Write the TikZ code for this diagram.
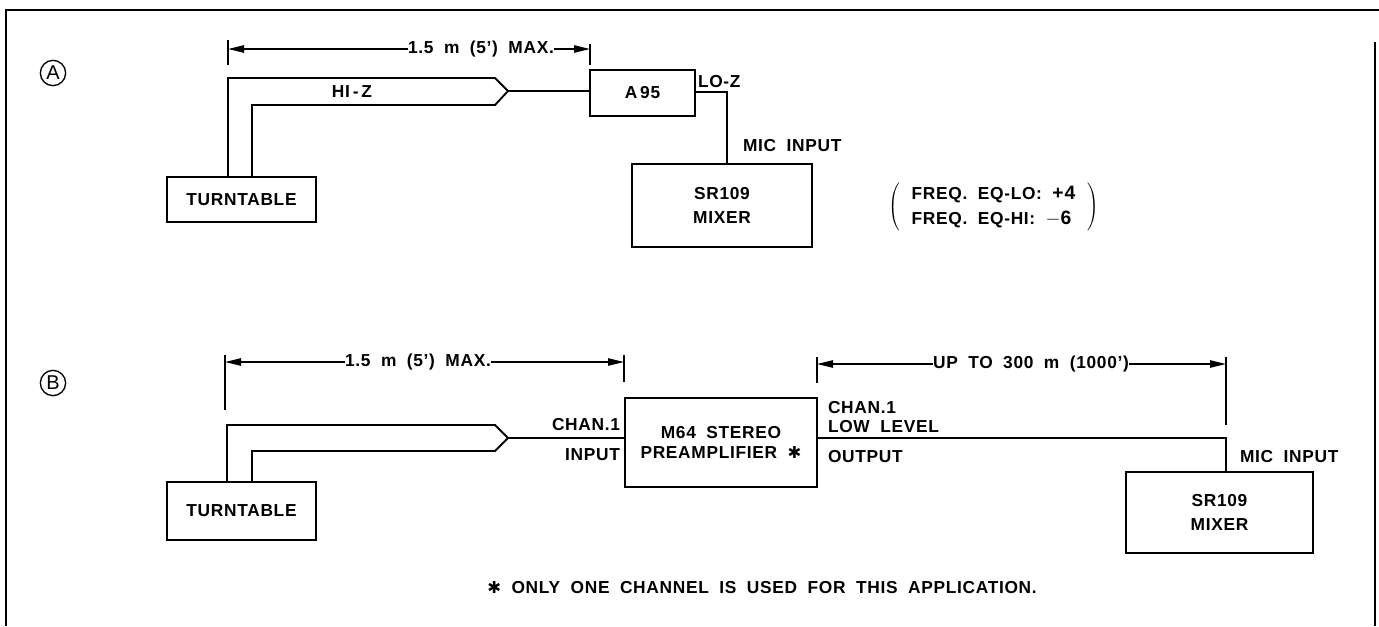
\documentclass[tikz,border=0pt]{standalone}
\usepackage{fontspec}
\setmainfont{Liberation Sans}[LetterSpace=4, WordSpace=1.9]
\newfontfamily\djv{DejaVu Sans}[Scale=0.95]
\newfontfamily\plainsans{Liberation Sans}
\usetikzlibrary{arrows.meta}
\newcommand\mylbl{\fontsize{13}{15.5}\selectfont\bfseries}
\newcommand\mycirc{\plainsans\fontsize{15}{17}\selectfont}
\newcommand\myast{{\djv\bfseries ✱}}
\newcommand\bignum[1]{{\fontsize{14.5}{15.5}\selectfont #1}}
\begin{document}
\begin{tikzpicture}[x=0.75pt,y=-0.75pt,
  every node/.style={font=\mylbl, inner sep=0pt, outer sep=0pt},
  wire/.style={line width=1.4pt, line join=miter},
  box/.style={draw, line width=1.6pt, align=center},
  dimarr/.style={line width=1.1pt, -{Triangle[length=12pt,width=5.5pt]}},
  tickline/.style={line width=1.1pt},
  frameline/.style={line width=1.6pt},
  circ/.style={draw, circle, line width=1pt, minimum size=19pt, font=\mycirc}]
\useasboundingbox (0,0) rectangle (1379,626);

% frame
\draw[frameline] (6,626) -- (6,10) -- (1379,10);
\draw[frameline] (1375,42) -- (1375,626);

% ================= panel A =================
\node[circ] (cA) at (53,73) {A};

\node[box, minimum width=111.75pt, minimum height=33.75pt] (ttA) at (241.5,199.5) {TURNTABLE};
\node[box, minimum width=78.75pt, minimum height=34.5pt] (a95) at (642.5,93) {A\,95};
\node[box, minimum width=135pt, minimum height=62.25pt] (mixA) at (722,205.5) {SR109\\[2pt]MIXER};

% cable A
\coordinate (oA1) at (228,78);
\coordinate (oA2) at (495,78);
\coordinate (plugA) at (508,91);
\coordinate (iA2) at (495,105);
\coordinate (iA1) at (252,105);
\draw[wire] (ttA.north -| oA1) -- (oA1) -- (oA2) -- (plugA) -- (iA2) -- (iA1) -- (ttA.north -| iA1);
\draw[wire] (plugA) -- (plugA -| a95.west);
\node (hiz) at (352,92) {HI\,-\,Z};

% A95 to mixer
\coordinate (loA) at (727,92);
\draw[wire] (a95.east |- loA) -- (loA) -- (loA |- mixA.north);
\node[anchor=west] (loz) at (698,82) {LO-Z};
\node[anchor=west] (micA) at (743,146) {MIC INPUT};

\node[anchor=west] (freq) at (888,207) {$\left(\vcenter{\hbox{\mylbl\def\arraystretch{1.2}\begin{tabular}{@{\hspace{9pt}}l@{\hspace{9pt}}}FREQ. EQ-LO: \bignum{+4}\\FREQ. EQ-HI: \bignum{$-$6}\end{tabular}}}\right)$};

% dimension A
\coordinate (dA1t) at (228,40); \coordinate (dA1b) at (228,65);
\coordinate (dA2t) at (590,44); \coordinate (dA2b) at (590,65);
\draw[tickline] (dA1t) -- (dA1b);
\draw[tickline] (dA2t) -- (dA2b);
\node (dimA) at (481,49) {1.5 m (5') MAX.};
\draw[dimarr] (dimA.west) -- (dimA.west -| dA1t);
\draw[dimarr] (dimA.east) -- (dimA.east -| dA2t);

% ================= panel B =================
\node[circ] (cB) at (53,383) {B};

\node[box, minimum width=111.75pt, minimum height=43.5pt] (ttB) at (241.5,511) {TURNTABLE};
\node[box, minimum width=144pt, minimum height=66.75pt] (m64) at (721,442.5) {M64 STEREO\\PREAMPLIFIER \myast};
\node[box, minimum width=140.25pt, minimum height=60.75pt] (mixB) at (1219.5,512.5) {SR109\\[3pt]MIXER};

% cable B
\coordinate (oB1) at (227,425);
\coordinate (oB2) at (495,425);
\coordinate (plugB) at (508,438);
\coordinate (iB2) at (495,451);
\coordinate (iB1) at (252,451);
\draw[wire] (ttB.north -| oB1) -- (oB1) -- (oB2) -- (plugB) -- (iB2) -- (iB1) -- (ttB.north -| iB1);
\draw[wire] (plugB) -- (plugB -| m64.west);
\node[anchor=east] (chanin) at (620,425) {CHAN.1};
\node[anchor=east] (inp) at (620,455) {INPUT};

% output line
\coordinate (outB) at (1226,438);
\draw[wire] (m64.east |- outB) -- (outB) -- (outB |- mixB.north);
\node[anchor=west] (chanout) at (828,408) {CHAN.1};
\node[anchor=west] (lowlev) at (828,427) {LOW LEVEL};
\node[anchor=west] (outp) at (828,457) {OUTPUT};
\node[anchor=west] (micB) at (1240,457) {MIC INPUT};

% dimension B1
\coordinate (dB1t) at (225,355); \coordinate (dB1b) at (225,410);
\coordinate (dB2t) at (624,355); \coordinate (dB2b) at (624,382);
\draw[tickline] (dB1t) -- (dB1b);
\draw[tickline] (dB2t) -- (dB2b);
\node (dimB) at (418,362) {1.5 m (5') MAX.};
\draw[dimarr] (dimB.west) -- (dimB.west -| dB1t);
\draw[dimarr] (dimB.east) -- (dimB.east -| dB2t);

% dimension B2
\coordinate (dC1t) at (817,357); \coordinate (dC1b) at (817,383);
\coordinate (dC2t) at (1226,357); \coordinate (dC2b) at (1226,425);
\draw[tickline] (dC1t) -- (dC1b);
\draw[tickline] (dC2t) -- (dC2b);
\node (dimC) at (1031,364) {UP TO 300 m (1000')};
\draw[dimarr] (dimC.west) -- (dimC.west -| dC1t);
\draw[dimarr] (dimC.east) -- (dimC.east -| dC2t);

% footnote
\node (foot) at (762,588) {\myast\ ONLY ONE CHANNEL IS USED FOR THIS APPLICATION.};
\end{tikzpicture}
\end{document}
